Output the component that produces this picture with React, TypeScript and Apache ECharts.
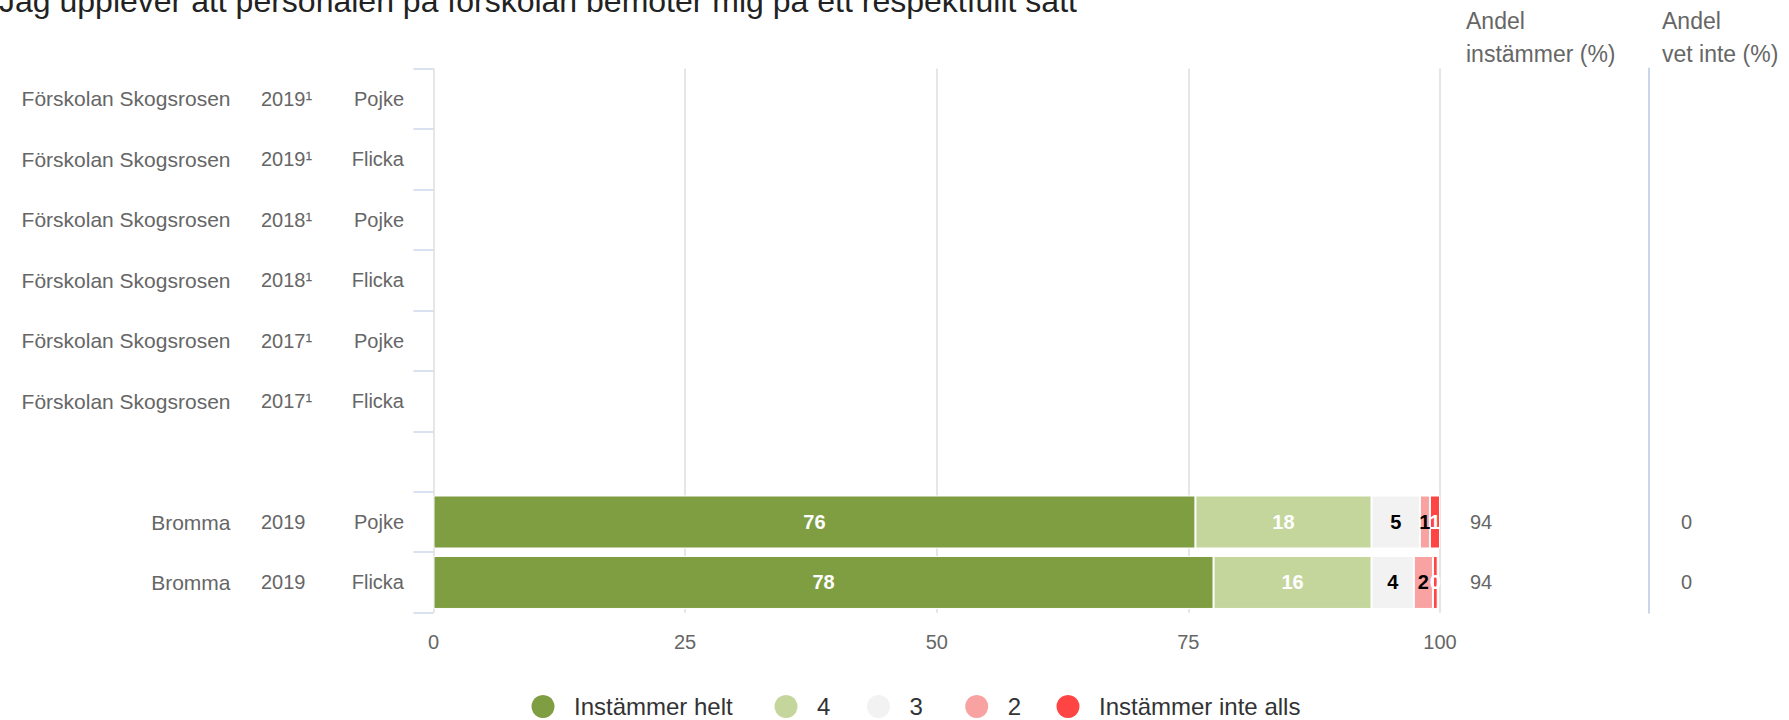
import React, { useEffect, useRef } from 'react';
import * as echarts from 'echarts';

const titleText = 'Jag upplever att personalen på förskolan bemöter mig på ett respektfullt sätt';

const schools = [
  'Förskolan Skogsrosen', 'Förskolan Skogsrosen', 'Förskolan Skogsrosen',
  'Förskolan Skogsrosen', 'Förskolan Skogsrosen', 'Förskolan Skogsrosen',
  '', 'Bromma', 'Bromma',
];
const years = ['2019¹', '2019¹', '2018¹', '2018¹', '2017¹', '2017¹', '', '2019', '2019'];
const genders = ['Pojke', 'Flicka', 'Pojke', 'Flicka', 'Pojke', 'Flicka', '', 'Pojke', 'Flicka'];
const andelInstammer = ['', '', '', '', '', '', '', '94', '94'];
const andelVetInte = ['', '', '', '', '', '', '', '0', '0'];

const seriesNames = ['Instämmer helt', '4', '3', '2', 'Instämmer inte alls'];
const helt = [null, null, null, null, null, null, null, 75.7, 77.5];
const fyra = [null, null, null, null, null, null, null, 17.5, 15.7];
const tre = [null, null, null, null, null, null, null, 4.8, 4.2];
const tva = [null, null, null, null, null, null, null, 1.0, 1.9];
const inteAlls = [null, null, null, null, null, null, null, 1.0, 0.47];

const xTicks = { min: 0, max: 100, interval: 25 };

const colors = ['#7f9e42', '#c5d69d', '#f2f2f2', '#f9a2a2', '#ff4444'];
const labelColors = ['#ffffff', '#ffffff', '#000000', '#000000', '#ffffff'];
const legendCenters = [543, 786, 878.5, 976.7, 1068];

const FONT = '"Liberation Sans", Arial, Helvetica, sans-serif';

export default function App() {
  const ref = useRef<HTMLDivElement>(null);
  useEffect(() => {
    const chart = echarts.init(ref.current as HTMLDivElement, null, { renderer: 'svg' });
    const values = [helt, fyra, tre, tva, inteAlls];
    const catAxisBase = {
      type: 'category',
      inverse: true,
      gridIndex: 0,
      axisLine: { show: false },
      axisTick: { show: false },
      splitLine: { show: false },
    };
    const option: any = {
      animation: false,
      backgroundColor: '#ffffff',
      textStyle: { fontFamily: FONT },
      grid: {
        left: 433.5,
        right: 349,
        top: 68.5,
        bottom: 107.3,
        containLabel: false,
        outerBoundsMode: 'none',
      },
      xAxis: {
        type: 'value',
        min: xTicks.min,
        max: xTicks.max,
        interval: xTicks.interval,
        axisLine: { show: false },
        axisTick: { show: false },
        splitLine: { show: true, lineStyle: { color: '#e6e6e6', width: 2 } },
        axisLabel: { color: '#666666', fontSize: 20, margin: 19, fontFamily: FONT },
      },
      yAxis: [
        {
          ...catAxisBase,
          position: 'left',
          data: genders,
          axisTick: { show: true, length: 20, lineStyle: { color: '#ccd6eb', width: 1.5 } },
          axisLabel: { interval: 0, color: '#666666', fontSize: 20, margin: 29.5, fontFamily: FONT },
        },
        {
          ...catAxisBase,
          position: 'left',
          offset: 0,
          data: schools,
          axisLabel: { interval: 0, color: '#666666', fontSize: 21, margin: 203, fontFamily: FONT },
        },
        {
          ...catAxisBase,
          position: 'left',
          offset: 0,
          data: years,
          axisLabel: { interval: 0, color: '#666666', fontSize: 20, margin: 172.5, align: 'left', fontFamily: FONT },
        },
        {
          ...catAxisBase,
          position: 'right',
          offset: 0,
          data: andelInstammer,
          axisLabel: { interval: 0, color: '#666666', fontSize: 20, margin: 30, align: 'left', fontFamily: FONT },
        },
        {
          ...catAxisBase,
          position: 'right',
          offset: 209,
          data: andelVetInte,
          axisLine: { show: true, lineStyle: { color: '#ccd6eb', width: 2 } },
          axisLabel: { interval: 0, color: '#666666', fontSize: 20, margin: 32, align: 'left', fontFamily: FONT },
        },
      ],
      legend: seriesNames.map((name, i) => ({
        data: [name],
        left: legendCenters[i] - 11.5,
        top: 694.5,
        padding: 0,
        icon: 'circle',
        itemWidth: 52,
        itemHeight: 23,
        itemStyle: { borderWidth: 0 },
        textStyle: { color: '#333333', fontSize: 24, fontFamily: FONT },
        selectedMode: false,
      })),
      series: seriesNames.map((name, i) => ({
        name,
        type: 'bar',
        stack: 'total',
        yAxisIndex: 0,
        barWidth: 53,
        data: values[i],
        itemStyle: { color: colors[i], borderColor: '#ffffff', borderWidth: 1 },
        label: {
          show: true,
          position: 'inside',
          color: labelColors[i],
          fontWeight: 'bold',
          fontSize: 20,
          fontFamily: FONT,
          formatter: (p: any) => (p.value == null ? '' : String(Math.round(p.value))),
        },
      })),
      graphic: [
        {
          type: 'text',
          x: -1,
          y: 1,
          style: {
            text: titleText,
            fill: '#222222',
            font: `32px ${FONT}`,
            verticalAlign: 'middle',
            align: 'left',
          },
        },
        {
          type: 'text',
          x: 1466,
          y: 4,
          style: {
            text: 'Andel\ninstämmer (%)',
            fill: '#666666',
            font: `23px ${FONT}`,
            lineHeight: 33,
            verticalAlign: 'top',
            align: 'left',
          },
        },
        {
          type: 'text',
          x: 1662,
          y: 4,
          style: {
            text: 'Andel\nvet inte (%)',
            fill: '#666666',
            font: `23px ${FONT}`,
            lineHeight: 33,
            verticalAlign: 'top',
            align: 'left',
          },
        },
      ],
    };
    chart.setOption(option);
    return () => chart.dispose();
  }, []);
  return (
    <div
      ref={ref}
      style={{ position: 'fixed', left: 0, top: 0, width: 1789, height: 720, background: '#ffffff' }}
    />
  );
}
